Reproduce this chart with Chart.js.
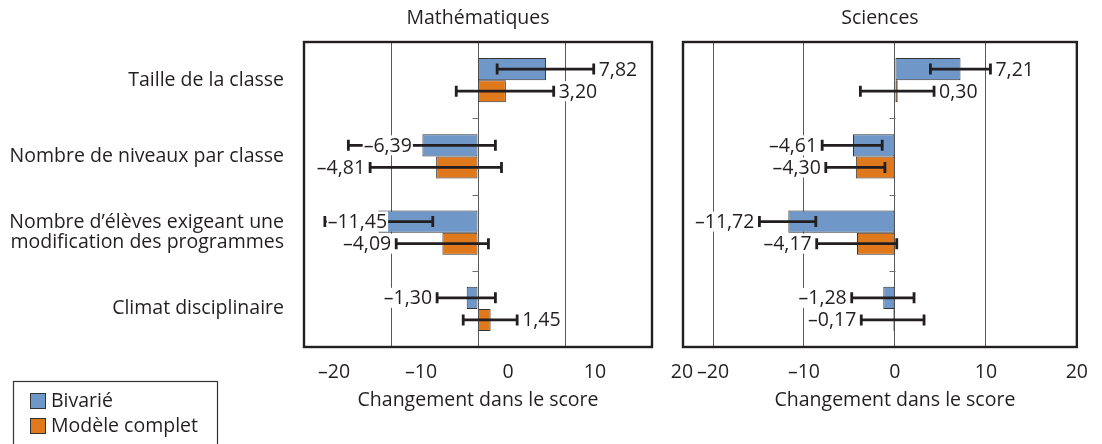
<!DOCTYPE html>
<html>
<head>
<meta charset="utf-8">
<script src="https://cdn.jsdelivr.net/npm/chart.js@4/dist/chart.umd.min.js"></script>
<style>
  html, body { margin: 0; padding: 0; background: #fff; }
  #wrap { position: relative; width: 1102px; height: 444px; overflow: hidden; }
  #math { position: absolute; left: 0; top: 0; }
  #sci { position: absolute; left: 620px; top: 0; }
</style>
</head>
<body>
<div id="wrap">
  <canvas id="math" width="720" height="444"></canvas>
  <canvas id="sci" width="482" height="444"></canvas>
</div>
<script>
// Categories and series
const categories = [
  'Taille de la classe',
  'Nombre de niveaux par classe',
  ['Nombre d’élèves exigeant une', 'modification des programmes'],
  'Climat disciplinaire'
];
const seriesNames = ['Bivarié', 'Modèle complet'];
const panelTitles = ['Mathématiques', 'Sciences'];
const axisTitle = 'Changement dans le score';
const tickValues = [-20, -10, 0, 10, 20];

// Mathématiques: estimates and confidence intervals
const mathBivarie = [7.82, -6.39, -11.45, -1.30];
const mathBivarieLow = [2.2, -14.9, -17.6, -4.7];
const mathBivarieHigh = [13.3, 2.0, -5.2, 2.0];
const mathComplet = [3.20, -4.81, -4.09, 1.45];
const mathCompletLow = [-2.5, -12.4, -9.4, -1.7];
const mathCompletHigh = [8.7, 2.7, 1.2, 4.5];

// Sciences: estimates and confidence intervals
const sciBivarie = [7.21, -4.61, -11.72, -1.28];
const sciBivarieLow = [3.9, -8.0, -14.9, -4.75];
const sciBivarieHigh = [10.5, -1.4, -8.7, 2.1];
const sciComplet = [0.30, -4.30, -4.17, -0.17];
const sciCompletLow = [-3.8, -7.6, -8.6, -3.7];
const sciCompletHigh = [4.3, -1.1, 0.2, 3.2];

const FONT = '"Open Sans", "DejaVu Sans", sans-serif';
const FS = 19.5;
const INK = '#231f20';
const BLUE = '#6f98c9';
const ORANGE = '#e0781c';
const EDGE = '#333333';

const fmtNum = v => (v < 0 ? '–' : '') + Math.abs(v).toFixed(2).replace('.', ',');
const fmtTick = v => (v < 0 ? '–' : '') + Math.abs(v);

// Error bars, value labels, panel frame, titles and legend
const decor = {
  id: 'decor',
  afterDatasetsDraw(chart, args, o) {
    const { ctx, scales: { x, y } } = chart;
    ctx.save();
    // small marks on the zero line between categories
    const x0 = Math.round(x.getPixelForValue(0)) + 0.5;
    ctx.strokeStyle = '#6d6e71';
    ctx.lineWidth = 1;
    for (let k = 1; k < chart.data.labels.length; k++) {
      const yy = Math.round((y.getPixelForTick(k - 1) + y.getPixelForTick(k)) / 2) + 0.5;
      ctx.beginPath(); ctx.moveTo(x0 - 6, yy); ctx.lineTo(x0, yy); ctx.stroke();
    }
    // confidence intervals
    ctx.strokeStyle = INK;
    ctx.lineWidth = 2.8;
    ctx.lineCap = 'butt';
    chart.data.datasets.forEach((ds, i) => {
      chart.getDatasetMeta(i).data.forEach((bar, j) => {
        const xl = x.getPixelForValue(ds.low[j]);
        const xh = x.getPixelForValue(ds.high[j]);
        const yy = bar.y;
        ctx.beginPath();
        ctx.moveTo(xl, yy); ctx.lineTo(xh, yy);
        ctx.moveTo(xl, yy - 5.5); ctx.lineTo(xl, yy + 5.5);
        ctx.moveTo(xh, yy - 5.5); ctx.lineTo(xh, yy + 5.5);
        ctx.stroke();
      });
    });
    // value labels on a white ground
    ctx.font = FS + 'px ' + FONT;
    ctx.textBaseline = 'middle';
    chart.data.datasets.forEach((ds, i) => {
      const anchors = (o.labelAnchors && o.labelAnchors[i]) || [];
      chart.getDatasetMeta(i).data.forEach((bar, j) => {
        const v = ds.data[j];
        const txt = fmtNum(v);
        const w = ctx.measureText(txt).width;
        let left;
        if (anchors[j] != null) {
          left = x.getPixelForValue(anchors[j]) - w;
        } else if (v >= 0) {
          left = x.getPixelForValue(ds.high[j]) + 5;
        } else {
          left = x.getPixelForValue(ds.low[j]) - 5 - w;
        }
        ctx.fillStyle = '#fff';
        ctx.fillRect(left - 1, bar.y - 10, w + 2, 20);
        ctx.fillStyle = INK;
        ctx.textAlign = 'left';
        ctx.fillText(txt, left, bar.y + 1);
      });
    });
    ctx.restore();
  },
  afterDraw(chart, args, o) {
    const { ctx, chartArea: a, scales: { x } } = chart;
    ctx.save();
    // panel frame
    ctx.strokeStyle = INK;
    ctx.lineWidth = 2.4;
    ctx.strokeRect(a.left, a.top, a.right - a.left, a.bottom - a.top);
    // panel title and axis title
    ctx.fillStyle = INK;
    ctx.font = FS + 'px ' + FONT;
    ctx.textAlign = 'center';
    ctx.textBaseline = 'middle';
    ctx.fillText(o.title, (a.left + a.right) / 2, 18);
    ctx.fillText(axisTitle, x.getPixelForValue(0), 400);
    // legend
    if (o.legend) {
      ctx.lineWidth = 1.2;
      ctx.strokeStyle = EDGE;
      ctx.strokeRect(13.5, 381.5, 204, 80);
      chart.data.datasets.forEach((ds, i) => {
        const cy = 401 + i * 25;
        ctx.fillStyle = ds.backgroundColor;
        ctx.fillRect(30, cy - 8, 16, 16);
        ctx.strokeStyle = EDGE;
        ctx.lineWidth = 1;
        ctx.strokeRect(30.5, cy - 7.5, 15, 15);
        ctx.fillStyle = INK;
        ctx.textAlign = 'left';
        ctx.fillText(ds.label, 51, cy);
      });
    }
    ctx.restore();
  }
};

function makePanel(canvasId, cfg) {
  return new Chart(document.getElementById(canvasId), {
    type: 'bar',
    data: {
      labels: categories,
      datasets: [
        { label: seriesNames[0], data: cfg.bivarie, low: cfg.bivarieLow, high: cfg.bivarieHigh,
          backgroundColor: BLUE, borderColor: EDGE, borderWidth: 1, borderSkipped: false,
          barPercentage: 1, categoryPercentage: 0.58 },
        { label: seriesNames[1], data: cfg.complet, low: cfg.completLow, high: cfg.completHigh,
          backgroundColor: ORANGE, borderColor: EDGE, borderWidth: 1, borderSkipped: false,
          barPercentage: 1, categoryPercentage: 0.58 }
      ]
    },
    options: {
      indexAxis: 'y',
      responsive: false,
      animation: false,
      events: [],
      layout: { padding: cfg.padding },
      scales: {
        x: {
          type: 'linear',
          min: cfg.min,
          max: 20,
          afterBuildTicks: s => { s.ticks = tickValues.map(v => ({ value: v })); },
          afterFit: s => { s.height = 97; },
          grid: {
            // lines on the frame edges are left to the frame itself
            color: ctx => (ctx.tick && (ctx.tick.value <= ctx.scale.min || ctx.tick.value >= ctx.scale.max))
              ? 'rgba(0,0,0,0)' : '#58595b',
            lineWidth: 1,
            drawTicks: false
          },
          border: { display: false },
          ticks: {
            autoSkip: false,
            maxRotation: 0,
            padding: 14,
            labelOffset: cfg.labelOffset,
            color: INK,
            font: { family: FONT, size: FS },
            callback: v => fmtTick(v)
          }
        },
        y: {
          type: 'category',
          display: cfg.showCategories,
          afterFit: s => { s.width = cfg.yWidth; },
          grid: { display: false },
          border: { display: false },
          ticks: {
            padding: 12,
            color: INK,
            font: { family: FONT, size: FS, lineHeight: 1.03 }
          }
        }
      },
      plugins: {
        legend: { display: false },
        tooltip: { enabled: false },
        decor: { title: cfg.title, legend: cfg.legend, labelAnchors: cfg.labelAnchors }
      }
    },
    plugins: [decor]
  });
}

makePanel('math', {
  title: panelTitles[0],
  bivarie: mathBivarie, bivarieLow: mathBivarieLow, bivarieHigh: mathBivarieHigh,
  complet: mathComplet, completLow: mathCompletLow, completHigh: mathCompletHigh,
  min: -20, labelOffset: 30, showCategories: true, legend: true, yWidth: 304,
  padding: { left: 0, right: 68, top: 42, bottom: 0 },
  labelAnchors: [[null, -7.6, -10.45, null], []]
});

makePanel('sci', {
  title: panelTitles[1],
  bivarie: sciBivarie, bivarieLow: sciBivarieLow, bivarieHigh: sciBivarieHigh,
  complet: sciComplet, completLow: sciCompletLow, completHigh: sciCompletHigh,
  min: -23.3, labelOffset: 0, showCategories: false, legend: false, yWidth: 0,
  padding: { left: 63, right: 23, top: 42, bottom: 0 },
  labelAnchors: [[], []]
});
</script>
</body>
</html>
